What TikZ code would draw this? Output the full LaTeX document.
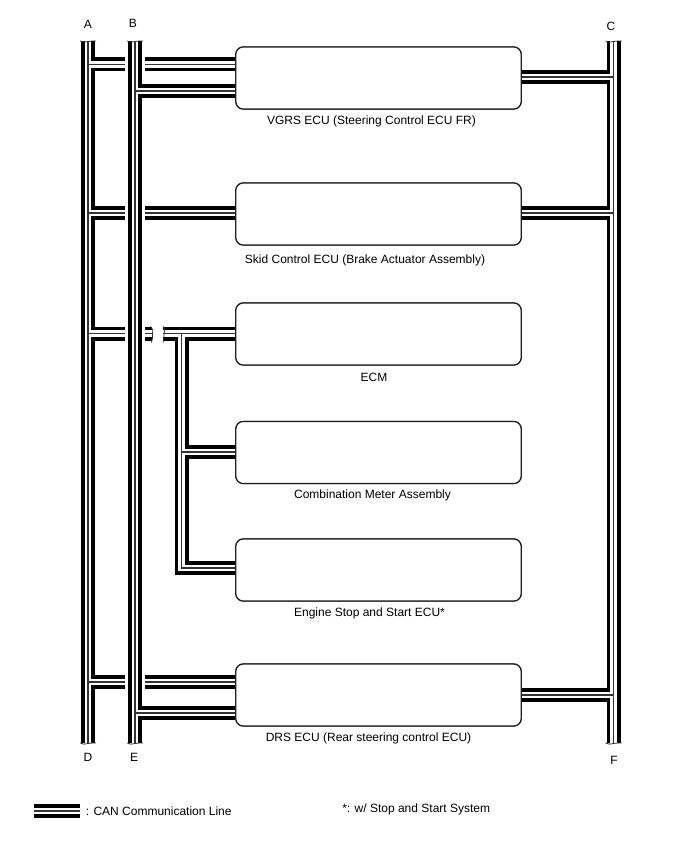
\documentclass[tikz,border=0pt]{standalone}
\usepackage{fontspec}
\setmainfont{Liberation Sans}
\def\normaledge{0.9pt}
\def\canedge{10.5pt}
\def\cangap{4.9pt}
\def\cancore{1.1pt}
\definecolor{edgeblack}{rgb}{0,0,0}
\definecolor{boxblack}{rgb}{0.12,0.12,0.12}
\tikzset{
  canouter/.style={line width=\canedge, color=edgeblack},
  cangapline/.style={line width=\cangap, color=white},
  cancoreline/.style={line width=\cancore, color=edgeblack!80},
  canhalo/.style={line width=14.5pt, color=white},
  canbreak/.style={line width=0.6pt, color=edgeblack!80},
  ecubox/.style={draw=boxblack, line width=\normaledge, rounded corners=5.5pt, fill=white, inner sep=0pt, minimum width=214pt, minimum height=46.5pt},
  lbl/.style={font=\fontsize{9pt}{10pt}\selectfont, inner sep=0pt}
}
\newcommand{\canline}[1]{
  \draw[canouter] #1;
  \draw[cangapline] #1;
  \draw[cancoreline] #1;
}
\newcommand{\canendh}[1]{
  \draw[canbreak] (#1.center) +(-8,0) to[out=-25,in=200] +(0,0.5) to[out=20,in=190] +(8,0);
}
\begin{document}
\begin{tikzpicture}[x = 0.75pt, y = -0.75pt]
            \useasboundingbox (0,0) rectangle (688,852);

            % buses
            \node (a1) at (88,41){};
            \node (a2) at (88,743){};
            \node (b1) at (135,41){};
            \node (b2) at (135,743){};
            \node (c1) at (613.5,41){};
            \node (c2) at (613.5,743){};

            % junctions on the buses
            \node (a3) at (88,64.5){};
            \node (a4) at (88,213){};
            \node (a5) at (88,333.5){};
            \node (a6) at (88,682){};
            \node (b3) at (135,91){};
            \node (b4) at (135,713){};
            \node (c3) at (613.5,77){};
            \node (c4) at (613.5,213){};
            \node (c5) at (613.5,695){};

            % break in the ECM line
            \node (s1) at (151.5,333.5){};
            \node (s2) at (163,333.5){};
            \node (t1) at (181.5,333.5){};
            \node (t2) at (181.5,452){};
            \node (t3) at (181.5,568){};

            % ECUs
            \node[ecubox] (vgrs) at (378.5,78){};
            \node[ecubox] (skid) at (378.5,214){};
            \node[ecubox] (ecm) at (378.5,334){};
            \node[ecubox] (meter) at (378.5,452.5){};
            \node[ecubox] (start) at (378.5,570){};
            \node[ecubox] (drs) at (378.5,695){};

            % bus A and what hangs on it
            \canline{(a1.center) -- (a2.center)
              (a3.center) -- (a3.center -| vgrs.west)
              (a4.center) -- (a4.center -| skid.west)
              (a5.center) -- (s1.center)
              (s2.center) -- (s2.center -| ecm.west)
              (t1.center) -- (t3.center) -- (t3.center -| start.west)
              (t2.center) -- (t2.center -| meter.west)
              (a6.center) -- (a6.center -| drs.west)}

            % bus B lies over the lines of bus A
            \draw[canhalo] (b1.center) -- (b2.center);
            \canline{(b1.center) -- (b2.center)
              (b3.center) -- (b3.center -| vgrs.west)
              (b4.center) -- (b4.center -| drs.west)}

            % bus C
            \canline{(c1.center) -- (c2.center)
              (c3.center) -- (c3.center -| vgrs.east)
              (c4.center) -- (c4.center -| skid.east)
              (c5.center) -- (c5.center -| drs.east)}

            % redraw ECU frames over the line ends
            \node[ecubox] at (vgrs){};
            \node[ecubox] at (skid){};
            \node[ecubox] at (ecm){};
            \node[ecubox] at (meter){};
            \node[ecubox] at (start){};
            \node[ecubox] at (drs){};

            % torn ends
            \canendh{a1}
            \canendh{a2}
            \canendh{b1}
            \canendh{b2}
            \canendh{c1}
            \canendh{c2}
            \draw[canbreak] (s1.center) +(-1,-7) to[out=-30,in=80] +(1,1) to[out=-100,in=60] +(0,9);
            \draw[canbreak] (s2.center) +(0,-7) to[out=-30,in=80] +(1,1) to[out=-100,in=60] +(0,9);

            % bus letters
            \node[lbl] (la) at (88,24){A};
            \node[lbl] (lb) at (133,23){B};
            \node[lbl] (lc) at (611,26){C};
            \node[lbl] (ld) at (88,757){D};
            \node[lbl] (le) at (134,757){E};
            \node[lbl] (lf) at (614,760){F};

            % ECU names
            \node[lbl] (nvgrs) at (371.5,121.5){VGRS ECU (Steering Control ECU FR)};
            \node[lbl] (nskid) at (365,260.5){Skid Control ECU (Brake Actuator Assembly)};
            \node[lbl] (necm) at (374,377.5){ECM};
            \node[lbl] (nmeter) at (372.5,495.5){Combination Meter Assembly};
            \node[lbl] (nstart) at (369.5,613.5){Engine Stop and Start ECU*};
            \node[lbl] (ndrs) at (368.5,738.5){DRS ECU (Rear steering control ECU)};

            % legend
            \node (k1) at (34,811){};
            \node (k2) at (80,811){};
            \canline{(k1.center) -- (k2.center)}
            \node[lbl, anchor=west] (kcan) at (85.5,811.5){: CAN Communication Line};
            \node[lbl, anchor=west] (knote) at (342,809.5){*: w/ Stop and Start System};

        \end{tikzpicture}
\end{document}
